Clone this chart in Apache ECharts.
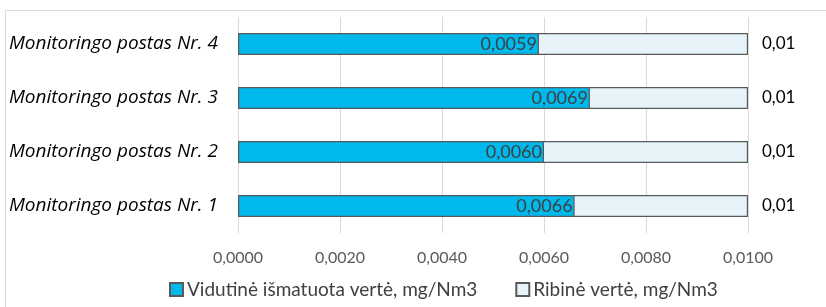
<!DOCTYPE html>
<html>
<head>
<meta charset="utf-8">
<script src="https://cdn.jsdelivr.net/npm/echarts@6/dist/echarts.min.js"></script>
<style>
  html, body { margin: 0; padding: 0; background: #fff; }
  #chart { width: 826px; height: 307px; }
</style>
</head>
<body>
<div id="chart"></div>
<script>
// duomenys
var categories = ['Monitoringo postas Nr. 1', 'Monitoringo postas Nr. 2', 'Monitoringo postas Nr. 3', 'Monitoringo postas Nr. 4'];
var measured = [0.0066, 0.0060, 0.0069, 0.0059];
var limits = [0.01, 0.01, 0.01, 0.01];
var axisTicks = [0, 0.002, 0.004, 0.006, 0.008, 0.01];

var font = 'Lato, "Open Sans", sans-serif';
var fmt4 = function (v) { return v.toFixed(4).replace('.', ','); };

var myChart = echarts.init(document.getElementById('chart'));
var option = {
    animation: false,
    textStyle: { fontFamily: font },
    graphic: [{
        type: 'rect',
        shape: { x: 5.5, y: 10.5, width: 900, height: 400 },
        style: { fill: 'none', stroke: '#d9d9d9', lineWidth: 1 },
        silent: true
    }],
    grid: { left: 238, right: 78, top: 17, bottom: 74 },
    legend: {
        bottom: 3,
        left: 164,
        itemWidth: 13,
        itemHeight: 13,
        itemGap: 38,
        icon: 'rect',
        textStyle: { color: '#404040', fontSize: 19, fontFamily: font, padding: [0, 0, 0, -1] },
        data: ['Vidutinė išmatuota vertė, mg/Nm3', 'Ribinė vertė, mg/Nm3']
    },
    xAxis: {
        type: 'value',
        min: 0,
        max: axisTicks[axisTicks.length - 1],
        interval: axisTicks[1] - axisTicks[0],
        axisLine: { show: false },
        axisTick: { show: false },
        axisLabel: { color: '#595959', fontSize: 16, margin: 17, formatter: fmt4 },
        splitLine: { show: true, lineStyle: { color: '#d9d9d9', width: 1 } }
    },
    yAxis: {
        type: 'category',
        data: categories,
        axisLine: { show: false },
        axisTick: { show: false },
        axisLabel: { color: '#000', fontSize: 19, fontStyle: 'italic', fontFamily: '"Open Sans", sans-serif', margin: 20 }
    },
    series: [
        {
            name: 'Vidutinė išmatuota vertė, mg/Nm3',
            type: 'bar',
            data: measured,
            barWidth: 22,
            barGap: '-100%',
            z: 3,
            itemStyle: { color: '#00b9ec', borderColor: '#595959', borderWidth: 1.2 },
            label: {
                show: true,
                position: 'insideRight',
                distance: 2,
                color: '#404040',
                fontSize: 18,
                formatter: function (p) { return fmt4(p.value); }
            }
        },
        {
            name: 'Ribinė vertė, mg/Nm3',
            type: 'bar',
            data: limits,
            barWidth: 22,
            barGap: '-100%',
            z: 2,
            itemStyle: { color: '#e6f4fa', borderColor: '#595959', borderWidth: 1.2 },
            label: {
                show: true,
                position: 'right',
                distance: 14,
                color: '#000',
                fontSize: 17,
                formatter: function (p) { return String(p.value).replace('.', ','); }
            }
        }
    ]
};
myChart.setOption(option);
</script>
</body>
</html>
